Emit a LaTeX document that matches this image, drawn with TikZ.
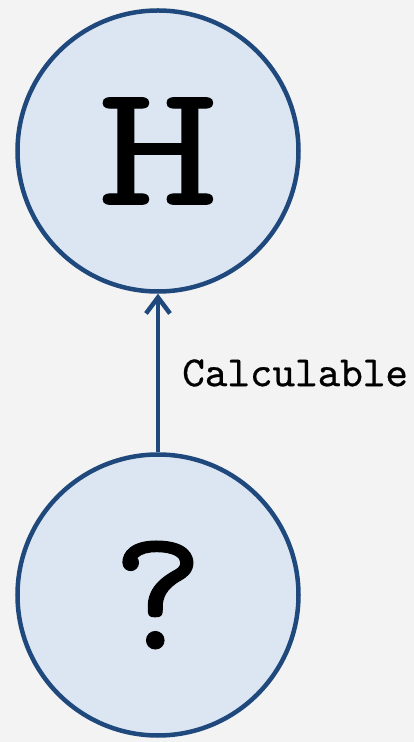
\documentclass[tikz,border=0pt]{standalone}
\usepackage{fontspec}
\newfontfamily\typefont[FakeBold=0.6]{lmmono10-regular.otf}
\usetikzlibrary{arrows.meta}
\definecolor{nodeblue}{HTML}{DCE6F2}
\definecolor{edgeblue}{HTML}{1F497D}
\definecolor{paper}{HTML}{F3F3F3}

\begin{document}
\begin{tikzpicture}[x=1pt, y=1pt,
            state/.style={circle, draw=edgeblue, fill=nodeblue, line width=4.5pt, minimum size=281pt, inner sep=0pt, font=\fontsize{175}{175}\selectfont\typefont},
            link/.style={draw=edgeblue, line width=4.5pt, -{Straight Barb[length=16pt, width=24pt]}},
            label/.style={inner sep=0pt, font=\fontsize{43}{43}\selectfont\typefont, black}
        ]
            % --- background ---
            \fill[paper] (0,0) rectangle (414,742);
            \useasboundingbox (0,0) rectangle (414,742);

            % --- nodes ---
            \node[state] (h) at (158,591) {\scalebox{1.3}[1]{H}};
            \node[state] (q) at (158,147) {?};

            % --- edge ---
            \draw[link] (q) -- (h) node[midway, right, xshift=22pt, label] {Calculable};
        \end{tikzpicture}
\end{document}
